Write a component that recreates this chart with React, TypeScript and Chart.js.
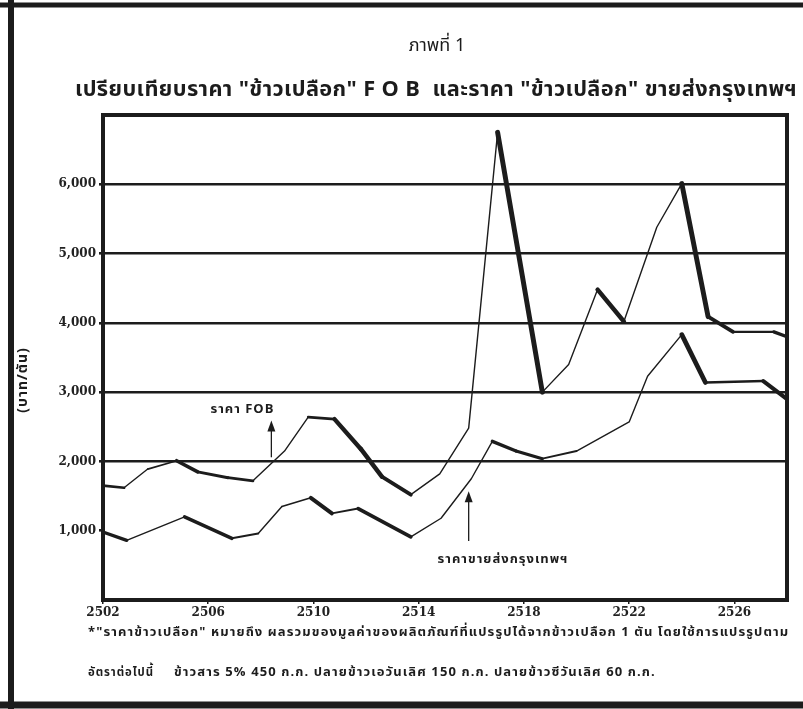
import React, { useEffect, useRef } from "react";
import { Chart, registerables } from "chart.js";

Chart.register(...registerables);

// ---- Data (years in Buddhist Era) ----
const fobYears = [2502.0, 2502.8, 2503.7, 2504.8, 2505.6, 2506.75, 2507.7, 2508.9, 2509.8, 2510.8, 2511.8, 2512.6, 2513.7, 2514.8, 2515.9, 2517.0, 2518.7, 2519.7, 2520.8, 2521.8, 2523.05, 2524.0, 2525.0, 2525.95, 2527.5, 2528.0];
const fobPrices = [1650, 1620, 1890, 2010, 1850, 1765, 1720, 2150, 2640, 2610, 2180, 1780, 1520, 1820, 2480, 6750, 3000, 3400, 4480, 4020, 5380, 6010, 4090, 3870, 3870, 3800];
const bkkYears = [2502.0, 2502.9, 2505.1, 2506.9, 2507.9, 2508.8, 2509.9, 2510.7, 2511.7, 2513.7, 2514.85, 2516.0, 2516.8, 2517.7, 2518.7, 2520.0, 2522.0, 2522.7, 2524.0, 2524.9, 2527.1, 2528.0];
const bkkPrices = [980, 860, 1200, 890, 960, 1350, 1475, 1250, 1320, 910, 1180, 1750, 2290, 2150, 2040, 2150, 2570, 3230, 3830, 3140, 3160, 2900];
const xTickYears = [2502, 2506, 2510, 2514, 2518, 2522, 2526];
const yTickValues = [1000, 2000, 3000, 4000, 5000, 6000];

// ---- Text ----
const titleText = "ภาพที่ 1";
const subtitleText = "เปรียบเทียบราคา \"ข้าวเปลือก\" F O B  และราคา \"ข้าวเปลือก\" ขายส่งกรุงเทพฯ";
const yAxisTitle = "(บาท/ตัน)";
const fobLabel = "ราคา FOB";
const bkkLabel = "ราคาขายส่งกรุงเทพฯ";
const note1 = "*\"ราคาข้าวเปลือก\" หมายถึง ผลรวมของมูลค่าของผลิตภัณฑ์ที่แปรรูปได้จากข้าวเปลือก 1 ตัน โดยใช้การแปรรูปตาม";
const note2a = "อัตราต่อไปนี้";
const note2b = "ข้าวสาร 5% 450 ก.ก. ปลายข้าวเอวันเลิศ 150 ก.ก. ปลายข้าวซีวันเลิศ 60 ก.ก.";

const INK = "#1c1c1c";
const THAI = "'Noto Sans Thai', 'Noto Serif Thai', Loma, Garuda, 'Tlwg Typo', 'DejaVu Sans', sans-serif";
const NUM = "'DejaVu Serif', 'Liberation Serif', serif";

function penWidth(ctx: any): number {
  const dx = ctx.p1.x - ctx.p0.x;
  const dy = ctx.p1.y - ctx.p0.y;
  const len = Math.hypot(dx, dy) || 1;
  const s = dy / len; // positive = going down on screen
  const t = Math.max(0, Math.min(1, (s + 0.4) / 1.4));
  return 1.4 + 3.6 * t;
}

const decorPlugin = {
  id: "decor",
  beforeDraw(chart: any) {
    const { ctx, width, height } = chart;
    ctx.save();
    ctx.fillStyle = "#ffffff";
    ctx.fillRect(0, 0, width, height);
    ctx.restore();
  },
  afterDraw(chart: any) {
    const { ctx, chartArea: a, scales } = chart;
    const x = scales.x;
    const y = scales.y;
    ctx.save();
    ctx.strokeStyle = INK;
    ctx.fillStyle = INK;

    // plot frame
    ctx.lineWidth = 4;
    ctx.strokeRect(a.left, a.top, a.right - a.left, a.bottom - a.top);

    // outer frame of the page
    ctx.lineWidth = 5;
    ctx.beginPath();
    ctx.moveTo(0, 5);
    ctx.lineTo(803, 5);
    ctx.stroke();
    ctx.lineWidth = 6;
    ctx.beginPath();
    ctx.moveTo(11, 0);
    ctx.lineTo(11, 709);
    ctx.stroke();
    ctx.lineWidth = 7;
    ctx.beginPath();
    ctx.moveTo(0, 705);
    ctx.lineTo(803, 705);
    ctx.stroke();

    // titles
    ctx.textAlign = "center";
    ctx.textBaseline = "middle";
    ctx.font = `18px ${THAI}`;
    ctx.fillText(titleText, 437, 47);
    ctx.font = `bold 22px ${THAI}`;
    (ctx as any).letterSpacing = "0.4px";
    ctx.fillText(subtitleText, 436, 92, 722);
    (ctx as any).letterSpacing = "0px";

    // y-axis title
    ctx.save();
    ctx.translate(24, 380);
    ctx.rotate(-Math.PI / 2);
    ctx.font = `bold 14px ${THAI}`;
    (ctx as any).letterSpacing = "1px";
    ctx.fillText(yAxisTitle, 0, 0);
    (ctx as any).letterSpacing = "0px";
    ctx.restore();

    // series labels with arrows
    const arrow = (xv: number, fromV: number, toV: number) => {
      const px = x.getPixelForValue(xv);
      const p0 = y.getPixelForValue(fromV);
      const p1 = y.getPixelForValue(toV);
      ctx.lineWidth = 1.3;
      ctx.beginPath();
      ctx.moveTo(px, p0);
      ctx.lineTo(px, p1 + 8);
      ctx.stroke();
      ctx.beginPath();
      ctx.moveTo(px, p1);
      ctx.lineTo(px - 4, p1 + 11);
      ctx.lineTo(px + 4, p1 + 11);
      ctx.closePath();
      ctx.fill();
    };
    arrow(2508.4, 2060, 2590);
    arrow(2515.9, 850, 1570);
    ctx.font = `bold 13px ${THAI}`;
    (ctx as any).letterSpacing = "1px";
    ctx.fillText(fobLabel, x.getPixelForValue(2507.3), y.getPixelForValue(2730), 74);
    ctx.fillText(bkkLabel, x.getPixelForValue(2517.2), y.getPixelForValue(570), 150);

    // footnotes
    ctx.textAlign = "left";
    ctx.font = `bold 13px ${THAI}`;
    (ctx as any).letterSpacing = "1.1px";
    ctx.fillText(note1, 88, 633, 702);
    ctx.fillText(note2a, 88, 673, 66);
    ctx.fillText(note2b, 174, 673, 490);
    (ctx as any).letterSpacing = "0px";

    ctx.restore();
  },
};

export default function App() {
  const ref = useRef<HTMLCanvasElement | null>(null);

  useEffect(() => {
    document.body.style.margin = "0";
    const canvas = ref.current;
    if (!canvas) return;
    const fobData = fobYears.map((yr, i) => ({ x: yr, y: fobPrices[i] }));
    const bkkData = bkkYears.map((yr, i) => ({ x: yr, y: bkkPrices[i] }));

    const chart = new Chart(canvas, {
      type: "line",
      data: {
        datasets: [
          {
            label: fobLabel,
            data: fobData,
            borderColor: INK,
            borderWidth: 2,
            pointRadius: 0,
            tension: 0,
            borderJoinStyle: "round",
            borderCapStyle: "round",
            segment: { borderWidth: penWidth },
          },
          {
            label: bkkLabel,
            data: bkkData,
            borderColor: INK,
            borderWidth: 2,
            pointRadius: 0,
            tension: 0,
            borderJoinStyle: "round",
            borderCapStyle: "round",
            segment: { borderWidth: penWidth },
          },
        ],
      },
      options: {
        animation: false,
        responsive: false,
        maintainAspectRatio: false,
        layout: { padding: { top: 115, left: 0, right: 16, bottom: 79 } },
        plugins: {
          legend: { display: false },
          tooltip: { enabled: false },
          title: { display: false },
        },
        scales: {
          x: {
            type: "linear",
            min: 2502,
            max: 2528,
            afterBuildTicks: (scale: any) => {
              scale.ticks = xTickYears.map((v) => ({ value: v }));
            },
            afterFit: (scale: any) => {
              scale.height = 30;
            },
            border: { display: false },
            grid: { drawOnChartArea: false, drawTicks: true, tickLength: 4, color: INK, lineWidth: 1.5 },
            ticks: {
              color: "#222",
              font: { family: NUM, size: 12, weight: "bold" },
              padding: 2,
              maxRotation: 0,
              autoSkip: false,
              callback: (v: any) => String(v),
            },
          },
          y: {
            type: "linear",
            min: 0,
            max: 7000,
            afterBuildTicks: (scale: any) => {
              scale.ticks = yTickValues.map((v) => ({ value: v }));
            },
            afterFit: (scale: any) => {
              scale.width = 103;
            },
            border: { display: false },
            grid: {
              drawTicks: true,
              tickLength: 4,
              tickColor: INK,
              lineWidth: 2.6,
              color: (c: any) => (c.tick && c.tick.value >= 2000 ? INK : "rgba(0,0,0,0)"),
            },
            ticks: {
              color: "#222",
              font: { family: NUM, size: 12, weight: "bold" },
              padding: 3,
              callback: (v: any) => Number(v).toLocaleString("en-US"),
            },
          },
        },
      },
      plugins: [decorPlugin],
    });
    return () => chart.destroy();
  }, []);

  return (
    <div style={{ width: 803, height: 709, position: "relative", background: "#fff" }}>
      <canvas ref={ref} width={803} height={709} style={{ display: "block", width: 803, height: 709 }} />
    </div>
  );
}
